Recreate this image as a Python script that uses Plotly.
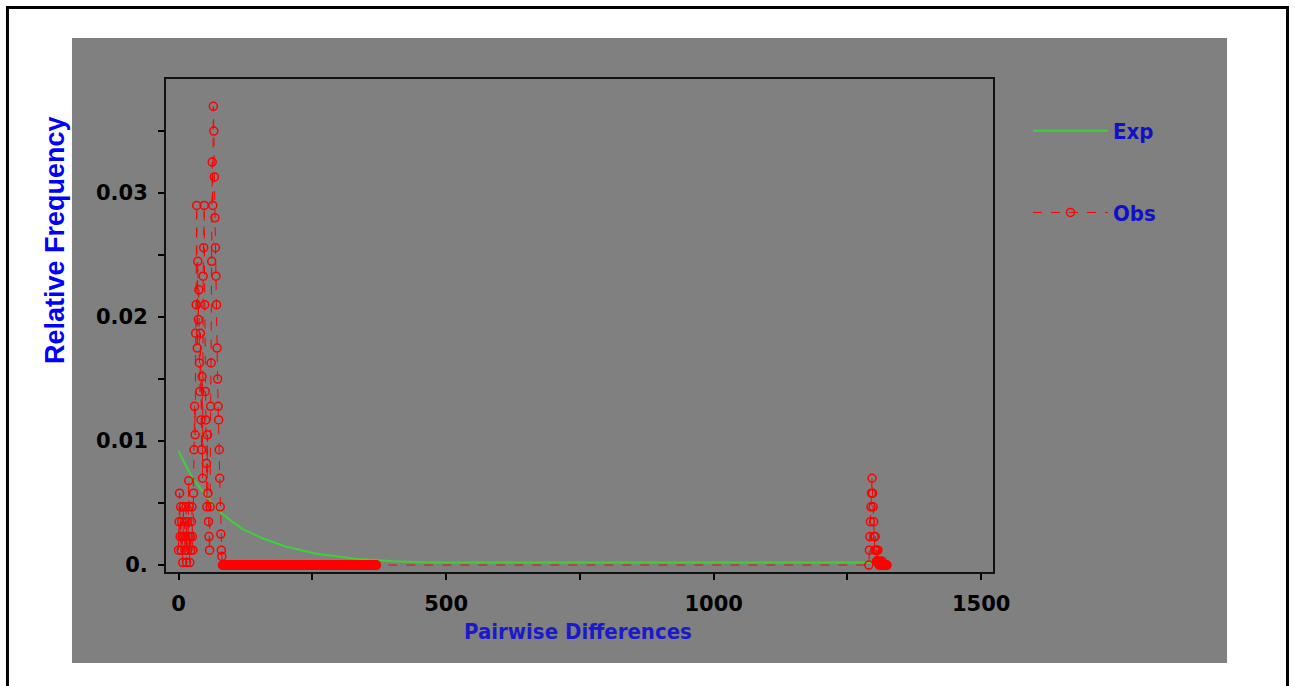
import plotly.graph_objects as go

# observed mismatch distribution (pairwise differences -> relative frequency)
obs_x = list(range(0, 83)) + list(range(83, 371)) + list(range(1290, 1325))
obs_low = [0.0012, 0.0035, 0.0058, 0.0023, 0.0047, 0.0012, 0.0035, 0.0023, 0.0002, 0.0047,
           0.0023, 0.0035, 0.0012, 0.0023, 0.0047, 0.0002, 0.0035, 0.0012, 0.0023, 0.0068,
           0.0047, 0.0002, 0.0023, 0.0012, 0.0035, 0.0047, 0.0023, 0.0012, 0.0058, 0.0093,
           0.0128, 0.0105, 0.0187, 0.0210, 0.0290, 0.0175, 0.0245, 0.0198, 0.0222, 0.0163,
           0.0140, 0.0187, 0.0117, 0.0093, 0.0152, 0.0070, 0.0233, 0.0256, 0.0290, 0.0210,
           0.0140, 0.0117, 0.0082, 0.0047, 0.0105, 0.0058, 0.0035, 0.0023, 0.0012, 0.0047,
           0.0128, 0.0163, 0.0245, 0.0325, 0.0290, 0.0370, 0.0350, 0.0313, 0.0280, 0.0256,
           0.0233, 0.0210, 0.0175, 0.0150, 0.0128, 0.0117, 0.0093, 0.0070, 0.0047, 0.0025,
           0.0012, 0.0007, 0.0]
obs_zero = [0.0] * 288
obs_high = [0.0, 0.0012, 0.0023, 0.0035, 0.0047, 0.0058, 0.0070, 0.0058, 0.0047, 0.0035,
            0.0023, 0.0012, 0.0023, 0.0012, 0.0003, 0.0012, 0.0003, 0.0012, 0.0003, 0.0,
            0.0003, 0.0, 0.0003, 0.0, 0.0, 0.0003, 0.0, 0.0, 0.0, 0.0,
            0.0, 0.0, 0.0, 0.0, 0.0]
obs_y = obs_low + obs_zero + obs_high

# expected (sudden expansion model) curve
exp_x = [0, 10, 20, 30, 40, 50, 60, 80, 100, 120, 140, 160, 180, 200, 220, 240, 260, 280,
         300, 330, 370, 400, 470, 1324]
exp_y = [0.0092, 0.0083, 0.0075, 0.0068, 0.0062, 0.0056, 0.0051, 0.0042, 0.0035, 0.0029,
         0.0025, 0.0021, 0.0018, 0.0015, 0.0013, 0.0011, 0.0009, 0.0008, 0.0007, 0.0005,
         0.0004, 0.0003, 0.0002, 0.0002]

x_ticks = [0, 500, 1000, 1500]
y_ticks = [0, 0.01, 0.02, 0.03]
y_labels = ["0.", "0.01", "0.02", "0.03"]

GRAY = "#808080"
RED = "#ff0000"
GREEN = "#3ad13a"
COND = "DejaVu Sans Condensed, DejaVu Sans"

fig = go.Figure()
fig.add_trace(go.Scatter(
    x=exp_x, y=exp_y, mode="lines", name="Exp",
    line=dict(color=GREEN, width=2), legendgroup="exp",
))
fig.add_trace(go.Scatter(
    x=obs_x, y=obs_y, mode="lines+markers", name="Obs",
    line=dict(color=RED, width=1, dash="dash"),
    marker=dict(symbol="circle-open", size=8, color=RED, line=dict(width=1.5, color=RED)),
    legendgroup="obs",
))

tick_font = dict(family="DejaVu Sans", size=21, color="black", weight="bold")

fig.update_layout(
    width=1295, height=686,
    margin=dict(l=166, r=302, t=79, b=114),
    paper_bgcolor="white",
    plot_bgcolor=GRAY,
    showlegend=True,
    legend=dict(
        x=1.0423, y=0.937, xanchor="left", yanchor="top", itemwidth=75,
        bgcolor="rgba(0,0,0,0)", traceorder="grouped", tracegroupgap=50,
        font=dict(family=COND, size=22, color="#1010c8", weight="bold"),
    ),
    xaxis=dict(
        range=[-23.4, 1522], tickvals=x_ticks, ticks="outside", ticklen=6, tickwidth=1.5,
        tickcolor="black", showgrid=False, zeroline=False, showline=True, linecolor="#111",
        linewidth=2, mirror=True, tickfont=tick_font, ticklabelstandoff=6,
        minor=dict(dtick=250, tick0=0, ticks="outside", ticklen=6, tickcolor="black", showgrid=False),
    ),
    yaxis=dict(
        range=[-0.00056, 0.0392], tickvals=y_ticks, ticktext=y_labels, ticks="outside",
        ticklen=6, tickwidth=1.5, tickcolor="black", showgrid=False, zeroline=False,
        showline=True, linecolor="#111", linewidth=2, mirror=True, tickfont=tick_font,
        ticklabelstandoff=6,
        minor=dict(dtick=0.005, tick0=0, ticks="outside", ticklen=6, tickcolor="black", showgrid=False),
    ),
    shapes=[
        dict(type="rect", xref="paper", yref="paper", x0=-0.1137, x1=1.2830, y0=-0.1846, y1=1.0832,
             fillcolor=GRAY, line=dict(width=0), layer="below"),
        dict(type="rect", xref="paper", yref="paper", x0=-0.1917, x1=1.3561, y0=-0.2434, y1=1.1450,
             fillcolor="rgba(0,0,0,0)", line=dict(color="black", width=3), layer="below"),
    ],
    annotations=[
        dict(text="Relative Frequency", xref="paper", yref="paper", x=-0.1342, y=0.6734,
             textangle=-90, showarrow=False, xanchor="center", yanchor="middle",
             font=dict(family="Liberation Sans, Arial", size=27, color="#0000ff", weight="bold")),
        dict(text="Pairwise Differences", xref="paper", yref="paper", x=0.4982, y=-0.1217,
             showarrow=False, xanchor="center", yanchor="middle",
             font=dict(family=COND, size=22, color="#1a1acc", weight="bold")),
    ],
)

fig.write_html("out.html", config={"displayModeBar": False},
               post_script="document.body.style.margin='0px';")
